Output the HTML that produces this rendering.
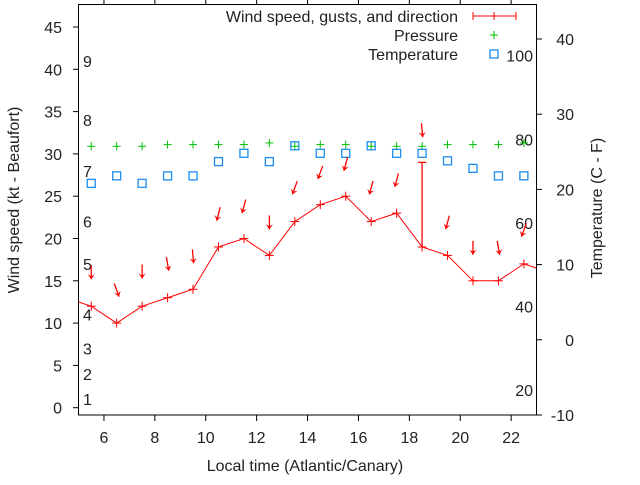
<!DOCTYPE html>
<html><head><meta charset="utf-8"><style>
body{margin:0;background:#fff}
svg text{font-family:"Liberation Sans",sans-serif;font-size:16px;fill:#222}
</style></head><body>
<svg width="640" height="480" viewBox="0 0 640 480" xmlns="http://www.w3.org/2000/svg">
<defs><clipPath id="pc"><rect x="78.5" y="4.5" width="458" height="410.5"/></clipPath></defs>
<g id="axes"></g>
<g id="marks" clip-path="url(#pc)"></g>
<g id="legend"></g>
</svg>
<script>
const hours=[4.5,5.5,6.5,7.5,8.5,9.5,10.5,11.5,12.5,13.5,14.5,15.5,16.5,17.5,18.5,19.5,20.5,21.5,22.5,23.5];
const wind=[13,12,10,12,13,14,19,20,18,22,24,25,22,23,19,18,15,15,17,16];
const gustHours=[18.5];
const gustVals=[29];
const arrowHours=[5.5,6.5,7.5,8.5,9.5,10.5,11.5,12.5,13.5,14.5,15.5,16.5,17.5,18.5,19.5,20.5,21.5,22.5];
const arrowPos=[16,13.9,16.1,17,17.9,22.9,23.8,21.9,26,27.8,28.8,26,26.9,32.8,21.9,18.9,18.9,21];
const arrowDir=[0,-20,0,-10,-5,15,15,0,20,20,15,15,15,-5,15,0,-10,20];
const tHours=[5.5,6.5,7.5,8.5,9.5,10.5,11.5,12.5,13.5,14.5,15.5,16.5,17.5,18.5,19.5,20.5,21.5,22.5];
const pressure=[30.9,30.9,30.9,31.1,31.1,31.1,31.1,31.3,30.9,31.1,31.1,30.9,30.9,30.9,31.1,31.1,31.1,31.3];
const tempC=[20.8,21.8,20.8,21.8,21.8,23.7,24.8,23.7,25.8,24.8,24.8,25.8,24.8,24.8,23.8,22.8,21.8,21.8];
const leftTicks=[0,5,10,15,20,25,30,35,40,45];
const rightTicks=[-10,0,10,20,30,40];
const xTicks=[6,8,10,12,14,16,18,20,22];
const beaufort=[1,2,3,4,5,6,7,8,9];
const beaufortKt=[1,4,7,11,17,22,28,34,41];
const fahr=[20,40,60,80,100];

const NS='http://www.w3.org/2000/svg';
const X=h=>78.5+(h-5)*25.45;
const YL=v=>407.7-v*8.46;
const YR=c=>415-(c+10)*7.52;
function mk(p,t,a){const e=document.createElementNS(NS,t);for(const k in a)e.setAttribute(k,a[k]);p.appendChild(e);return e;}
const ax=document.getElementById('axes'),mg=document.getElementById('marks'),lg=document.getElementById('legend');
let fr=mk(ax,'rect',{x:78.5,y:4.5,width:458,height:410.5,fill:'none',stroke:'#000','stroke-width':1});

leftTicks.forEach(v=>{const y=YL(v);mk(ax,'line',{x1:73,x2:78.5,y1:y,y2:y,stroke:'#000'});
 const t=mk(ax,'text',{x:62,y:y+6,'text-anchor':'end'});t.textContent=v;
 });
rightTicks.forEach(v=>{const y=YR(v);mk(ax,'line',{x1:536.5,x2:542,y1:y,y2:y,stroke:'#000'});
 const t=mk(ax,'text',{x:574,y:y+6,'text-anchor':'end'});t.textContent=v;
 });
xTicks.forEach(v=>{const x=X(v);mk(ax,'line',{x1:x,x2:x,y1:415,y2:421,stroke:'#000'});mk(ax,'line',{x1:x,x2:x,y1:0,y2:4.5,stroke:'#000'});
 const t=mk(ax,'text',{x:x,y:443,'text-anchor':'middle'});t.textContent=v;
 });
beaufort.forEach((b,i)=>{const t=mk(ax,'text',{x:83,y:YL(beaufortKt[i])+6});t.textContent=b;
 });
fahr.forEach(f=>{const c=(f-32)*5/9;const t=mk(ax,'text',{x:533,y:YR(c)+6,'text-anchor':'end'});t.textContent=f;
 });
let t;
t=mk(ax,'text',{x:305,y:471,'text-anchor':'middle'});t.textContent='Local time (Atlantic/Canary)';

t=mk(ax,'text',{x:0,y:0,'text-anchor':'middle',transform:'translate(19,200) rotate(-90)'});t.textContent='Wind speed (kt - Beaufort)';

t=mk(ax,'text',{x:0,y:0,'text-anchor':'middle',transform:'translate(602,208) rotate(-90)'});t.textContent='Temperature (C - F)';


function plus(g,x,y,c,s){mk(g,'line',{x1:x-s,x2:x+s,y1:y,y2:y,stroke:c});mk(g,'line',{x1:x,x2:x,y1:y-s,y2:y+s,stroke:c});}
pressure.forEach((p,i)=>{const g=mk(mg,'g',{});plus(g,X(tHours[i]),YL(p),'#00c000',4);});
tempC.forEach((c,i)=>{const r=mk(mg,'rect',{x:X(tHours[i])-4,y:YR(c)-4,width:8,height:8,fill:'none',stroke:'#1c8cf0','stroke-width':1.3});
 });
const pl=mk(mg,'polyline',{points:hours.map((h,i)=>X(h)+','+YL(wind[i])).join(' '),fill:'none',stroke:'#f00','stroke-width':1});

hours.forEach((h,i)=>{const g=mk(mg,'g',{});plus(g,X(h),YL(wind[i]),'#f00',4.5);});
gustHours.forEach((h,i)=>{const j=hours.indexOf(h);const x=X(h);
 const l=mk(mg,'line',{x1:x,x2:x,y1:YL(gustVals[i]),y2:YL(wind[j]),stroke:'#f00','stroke-width':1.3});
 
 mk(mg,'line',{x1:x-4,x2:x+4,y1:YL(gustVals[i]),y2:YL(gustVals[i]),stroke:'#f00','stroke-width':1.3});});
arrowHours.forEach((h,i)=>{const cx=X(h),cy=YL(arrowPos[i]);const a=arrowDir[i]*Math.PI/180;const L=7;
 const dx=Math.sin(a)*L,dy=Math.cos(a)*L;const tx=cx+dx,ty=cy-dy,hx=cx-dx,hy=cy+dy;
 const g=mk(mg,'g',{});
 mk(g,'line',{x1:tx,y1:ty,x2:hx,y2:hy,stroke:'#f00','stroke-width':1.3});
 const ux=-Math.sin(a),uy=Math.cos(a);const px=uy,py=-ux;
 mk(g,'polygon',{points:`${hx},${hy} ${hx-ux*5+px*3.5},${hy-uy*5+py*3.5} ${hx-ux*3},${hy-uy*3} ${hx-ux*5-px*3.5},${hy-uy*5-py*3.5}`,fill:'#f00'});});
const lt=['Wind speed, gusts, and direction','Pressure','Temperature'];
const ly=[16,35,54];
lt.forEach((s,i)=>{const e=mk(lg,'text',{x:458,y:ly[i]+6,'text-anchor':'end'});e.textContent=s;
 });
mk(lg,'line',{x1:473,x2:516,y1:16,y2:16,stroke:'#f00'});
[473,494,516].forEach(x=>mk(lg,'line',{x1:x,x2:x,y1:12,y2:20,stroke:'#f00'}));
plus(lg,494,35,'#00c000',4);
mk(lg,'rect',{x:490,y:50,width:8,height:8,fill:'none',stroke:'#1c8cf0','stroke-width':1.3});
</script>
</body></html>
